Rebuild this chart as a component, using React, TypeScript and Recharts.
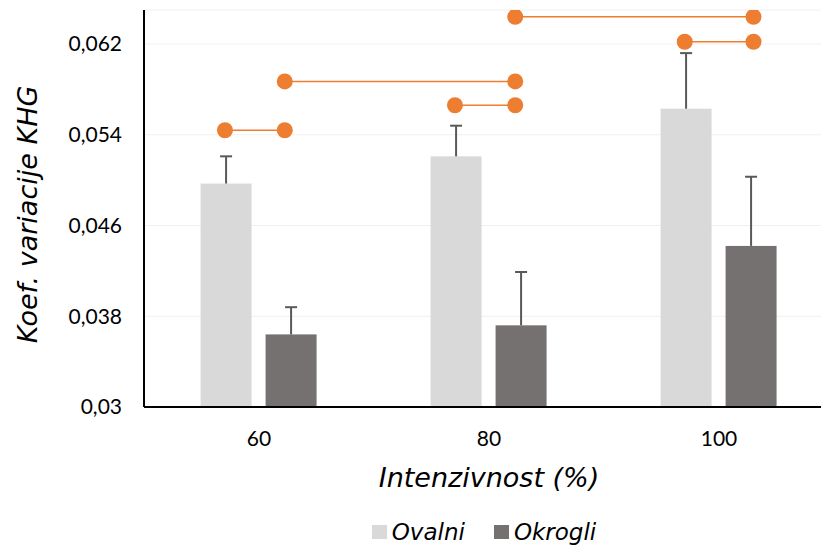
import React from 'react';
import { ComposedChart, Bar, XAxis, YAxis, CartesianGrid, Scatter, Legend, Label } from 'recharts';

const categories = ['60', '80', '100'];
const ovalni = [0.0497, 0.0521, 0.0563];
const ovalniErr = [0.0024, 0.0027, 0.0049];
const okrogli = [0.0364, 0.0372, 0.0442];
const okrogliErr = [0.0024, 0.0047, 0.0061];
const yTicks = [0.03, 0.038, 0.046, 0.054, 0.062];
const Y_MIN = 0.03;
const Y_MAX = 0.065;

// significance connectors (x in category-band units, 0..3)
const sigStart = [0.352, 0.612, 1.352, 1.614, 2.351];
const sigEnd = [0.612, 1.614, 1.614, 2.65, 2.65];
const sigLevel = [0.0544, 0.0587, 0.0566, 0.0644, 0.0622];

const data = categories.map((c, i) => ({
  cat: c,
  ovalni: ovalni[i],
  ovalniErr: ovalniErr[i],
  okrogli: okrogli[i],
  okrogliErr: okrogliErr[i],
}));
const sigData = sigLevel.map((y, i) => [
  { x: sigStart[i], y },
  { x: sigEnd[i], y },
]);

const FONT = 'DejaVu Sans';
const TICK_FONT = 'Lato';
const C_OVAL = '#D9D9D9';
const C_OKR = '#767171';
const C_SIG = '#ED7D31';

const makeShape = (valKey: string, errKey: string) => (props: any) => {
  const { x, y, width, height, fill, payload } = props;
  const v = payload[valKey];
  const e = payload[errKey];
  const ppu = height / (v - Y_MIN);
  const cx = x + width / 2;
  const top = y - e * ppu;
  return (
    <g>
      <rect x={x} y={y} width={width} height={height} fill={fill} />
      <line x1={cx} y1={y} x2={cx} y2={top} stroke="#595959" strokeWidth={2} />
      <line x1={cx - 6} y1={top} x2={cx + 6} y2={top} stroke="#595959" strokeWidth={2} />
    </g>
  );
};

const dotShape = (props: any) => <circle cx={props.cx} cy={props.cy} r={8} fill={C_SIG} />;

const renderLegend = () => (
  <div
    style={{
      display: 'flex',
      justifyContent: 'center',
      alignItems: 'center',
      height: 40,
      fontFamily: FONT,
      fontStyle: 'italic',
      fontSize: 23,
      color: '#000',
    }}
  >
    <span style={{ display: 'inline-block', width: 15, height: 14, background: C_OVAL, marginRight: 5 }} />
    <span style={{ marginRight: 29 }}>Ovalni</span>
    <span style={{ display: 'inline-block', width: 15, height: 14, background: C_OKR, marginRight: 5 }} />
    <span>Okrogli</span>
  </div>
);

const YTitle = (props: any) => {
  const vb = props.viewBox || { x: 0, y: 10, width: 144, height: 397 };
  const x = vb.x + 37;
  const y = vb.y + vb.height / 2 + 6;
  return (
    <text
      x={x}
      y={y}
      transform={`rotate(-90, ${x}, ${y})`}
      textAnchor="middle"
      fontFamily={FONT}
      fontStyle="italic"
      fontSize={27}
      fill="#000"
    >
      Koef. variacije KHG
    </text>
  );
};

export default function App() {
  return (
    <div style={{ position: 'absolute', left: 0, top: 0, width: 821, height: 552, overflow: 'hidden', background: '#fff' }}>
      <ComposedChart
        width={840}
        height={552}
        data={data}
        margin={{ top: 10, right: 6, bottom: 0, left: 0 }}
        barCategoryGap="24.6%"
        barGap={14}
      >
        <CartesianGrid vertical={false} stroke="#F0F0F0" />
        <XAxis
          dataKey="cat"
          tickLine={false}
          axisLine={{ stroke: '#000', strokeWidth: 2 }}
          tick={{ fill: '#000', fontSize: 21, fontFamily: TICK_FONT }}
          tickMargin={18}
          height={105}
          interval={0}
        >
          <Label
            value="Intenzivnost (%)"
            position="insideBottom"
            offset={25}
            style={{ fontFamily: FONT, fontStyle: 'italic', fontSize: 27, fill: '#000' }}
          />
        </XAxis>
        <XAxis xAxisId="num" type="number" dataKey="x" domain={[0, 3]} hide allowDataOverflow />
        <YAxis
          width={144}
          domain={[Y_MIN, Y_MAX]}
          ticks={yTicks}
          interval={0}
          allowDataOverflow
          tickFormatter={(v: number) => String(v).replace('.', ',')}
          tickLine={false}
          axisLine={{ stroke: '#000', strokeWidth: 2 }}
          tick={{ fill: '#000', fontSize: 21, fontFamily: TICK_FONT }}
          tickMargin={16}
        >
          <Label content={<YTitle />} />
        </YAxis>
        <Bar dataKey="ovalni" fill={C_OVAL} isAnimationActive={false} shape={makeShape('ovalni', 'ovalniErr')} />
        <Bar dataKey="okrogli" fill={C_OKR} isAnimationActive={false} shape={makeShape('okrogli', 'okrogliErr')} />
        {sigData.map((d, i) => (
          <Scatter
            key={i}
            xAxisId="num"
            data={d}
            dataKey="y"
            fill={C_SIG}
            line={{ stroke: C_SIG, strokeWidth: 1.5 }}
            shape={dotShape}
            isAnimationActive={false}
            legendType="none"
          />
        ))}
        <Legend content={renderLegend} verticalAlign="bottom" wrapperStyle={{ left: 144, width: 680, bottom: 0 }} />
      </ComposedChart>
    </div>
  );
}
